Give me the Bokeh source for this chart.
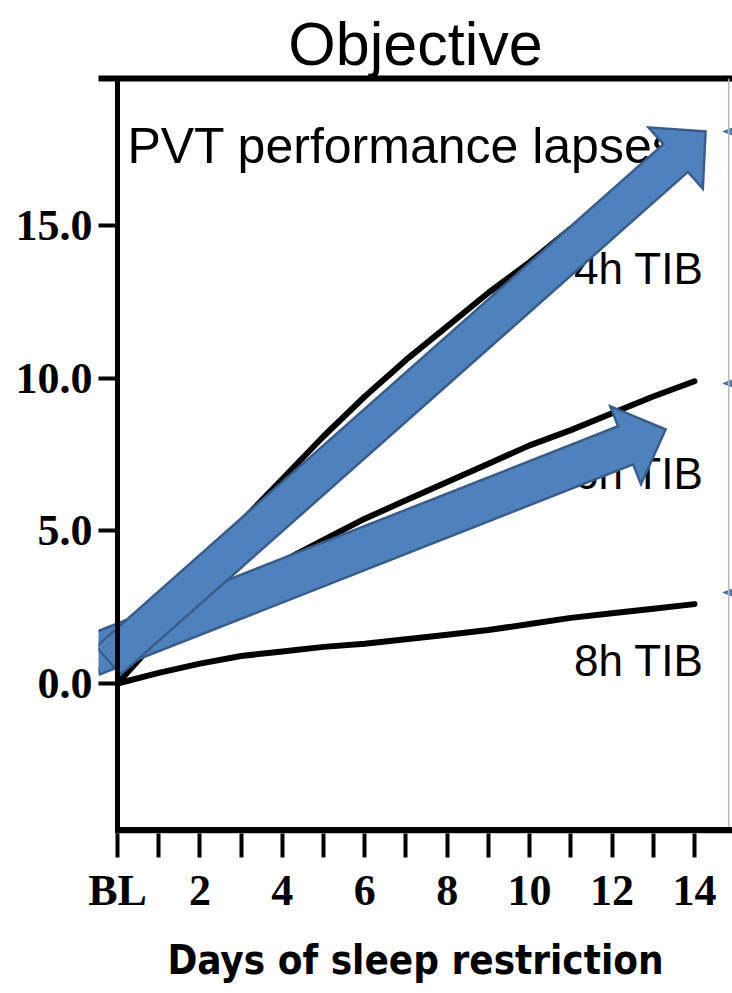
import math
from bokeh.plotting import figure
from bokeh.models import (Range1d, LinearAxis, FixedTicker, PrintfTickFormatter,
                          Span, BoxAnnotation)
from bokeh.core.properties import value
from bokeh.embed import file_html
from bokeh.resources import INLINE

# ---------------- data ----------------
days = list(range(15))
lapses_4h = [0.0, 2.3, 4.0, 5.3, 6.7, 8.1, 9.4, 10.6, 11.7, 12.8, 13.8, 14.9, 15.9, 16.8, 17.7]
lapses_6h = [0.0, 1.5, 2.45, 3.25, 4.0, 4.7, 5.4, 6.0, 6.6, 7.2, 7.8, 8.3, 8.85, 9.4, 9.9]
lapses_8h = [0.0, 0.35, 0.65, 0.9, 1.05, 1.2, 1.3, 1.45, 1.6, 1.75, 1.95, 2.15, 2.3, 2.45, 2.6]

y_ticks = [0, 5, 10, 15]
x_ticks = list(range(15))
x_tick_labels = {0: "BL", 1: "", 2: "2", 3: "", 4: "4", 5: "", 6: "6", 7: "",
                 8: "8", 9: "", 10: "10", 11: "", 12: "12", 13: "", 14: "14"}

series_labels = ["4h TIB", "6h TIB", "8h TIB"]
series_label_x = [14.22, 14.22, 14.22]
series_label_y = [13.6, 6.88, 0.75]

panel_title = "Objective"
measure_title = "PVT performance lapses"
measure_x = [0.24]
measure_y = [17.59]
x_axis_title = "Days of sleep restriction"

# overlaid block arrows (data coordinates of tail centre and tip)
arrow_tail_x = [-0.61, -0.22]
arrow_tail_y = [0.92, 0.75]
arrow_tip_x = [13.30, 14.27]
arrow_tip_y = [8.32, 18.08]
arrow_shaft_px = [41, 37]
arrow_head_w_px = [84, 82]
arrow_head_len_px = [43, 40]

# cut-off pointers at right edge
pointer_y = [18.08, 9.83, 2.98]
pointer_tip_x = 14.7
edge_line_x = 14.83

# ---------------- layout ----------------
X0, X1 = -0.461, 14.923
Y0, Y1 = -4.913, 19.817
FRAME_W, FRAME_H = 634, 755
KX = FRAME_W / (X1 - X0)
KY = FRAME_H / (Y1 - Y0)

p = figure(width=732, height=993, x_range=Range1d(X0, X1), y_range=Range1d(Y0, Y1),
           output_backend="svg", toolbar_location=None,
           x_axis_location=None, y_axis_location=None,
           min_border_left=98, min_border_right=0, min_border_top=78, min_border_bottom=160,
           title=panel_title)
p.grid.visible = False
p.outline_line_color = None
p.background_fill_color = "white"
p.border_fill_color = "white"
p.title.align = "center"
p.title.text_font = "Liberation Sans"
p.title.text_font_style = "normal"
p.title.text_font_size = "61px"
p.title.text_color = "black"
p.title.standoff = 2

serif = "Liberation Serif"

yaxis = LinearAxis(ticker=FixedTicker(ticks=y_ticks), formatter=PrintfTickFormatter(format="%.1f"))
yaxis.axis_line_color = None
yaxis.major_tick_in = 19
yaxis.major_tick_out = 0
yaxis.major_tick_line_width = 4
yaxis.minor_tick_line_color = None
yaxis.major_label_standoff = 6
yaxis.major_label_text_font = serif
yaxis.major_label_text_font_style = "bold"
yaxis.major_label_text_font_size = "44px"
yaxis.major_label_text_color = "black"
p.add_layout(yaxis, "left")

xaxis = LinearAxis(ticker=FixedTicker(ticks=x_ticks), major_label_overrides=x_tick_labels)
xaxis.axis_line_color = None
xaxis.major_tick_in = 0
xaxis.major_tick_out = 24
xaxis.major_tick_line_width = 4
xaxis.minor_tick_line_color = None
xaxis.major_label_standoff = 8
xaxis.major_label_text_font = serif
xaxis.major_label_text_font_style = "bold"
xaxis.major_label_text_font_size = "44px"
xaxis.major_label_text_color = "black"
xaxis.axis_label = x_axis_title
xaxis.axis_label_standoff = 19
xaxis.axis_label_text_font = "DejaVu Sans Condensed"
xaxis.axis_label_text_font_style = "bold"
xaxis.axis_label_text_font_size = "40px"
xaxis.axis_label_text_color = "black"
p.add_layout(xaxis, "below")

top = LinearAxis(ticker=FixedTicker(ticks=[]))
top.axis_line_width = 6
top.axis_line_color = "black"
top.major_tick_in = 0
top.major_tick_out = 0
top.minor_tick_line_color = None
top.major_label_text_font_size = "0px"
p.add_layout(top, "above")

# spines
p.add_layout(Span(location=0, dimension="height", line_color="black", line_width=5))
p.add_layout(Span(location=edge_line_x, dimension="height", line_color="#b8b8b8", line_width=1.5))
p.add_layout(BoxAnnotation(left=-2.5 / KX, right=X1, bottom=Y0, top=Y0 + 6.5 / KY,
                           fill_color="black", fill_alpha=1.0, line_color=None))

# data lines
for ys in (lapses_4h, lapses_6h, lapses_8h):
    p.line(days, ys, line_color="black", line_width=6, line_cap="round", line_join="round")

p.text(x=series_label_x, y=series_label_y, text=series_labels,
       text_font=value("Liberation Sans"), text_font_size=value("44px"),
       text_align="right", text_baseline="alphabetic", text_color="black")
p.text(x=measure_x, y=measure_y, text=[measure_title],
       text_font=value("Liberation Sans"), text_font_size=value("50px"),
       text_align="left", text_baseline="alphabetic", text_color="black")


def arrow_polygon(tx, ty, hx, hy, shaft, head_w, head_len):
    ax, ay = tx * KX, ty * KY
    bx, by = hx * KX, hy * KY
    dx, dy = bx - ax, by - ay
    L = math.hypot(dx, dy)
    ux, uy = dx / L, dy / L
    nx, ny = -uy, ux
    cx, cy = bx - ux * head_len, by - uy * head_len
    s, h = shaft / 2.0, head_w / 2.0
    pts = [(ax + nx * s, ay + ny * s), (cx + nx * s, cy + ny * s), (cx + nx * h, cy + ny * h),
           (bx, by), (cx - nx * h, cy - ny * h), (cx - nx * s, cy - ny * s), (ax - nx * s, ay - ny * s)]
    return [q[0] / KX for q in pts], [q[1] / KY for q in pts]


for i in range(len(arrow_tail_x)):
    xs, ys = arrow_polygon(arrow_tail_x[i], arrow_tail_y[i], arrow_tip_x[i], arrow_tip_y[i],
                           arrow_shaft_px[i], arrow_head_w_px[i], arrow_head_len_px[i])
    p.patch(xs, ys, fill_color="#4F81BD", line_color="#385D8A", line_width=2.5, line_join="miter")

ptr_xs, ptr_ys = [], []
for yv in pointer_y:
    ptr_xs.append([pointer_tip_x, X1 + 0.3, X1 + 0.3])
    ptr_ys.append([yv, yv + 8 / KY, yv - 8 / KY])
p.patches(ptr_xs, ptr_ys, fill_color="#4F81BD", line_color="#385D8A", line_width=1)

open("out.html", "w").write(file_html(p, INLINE))
